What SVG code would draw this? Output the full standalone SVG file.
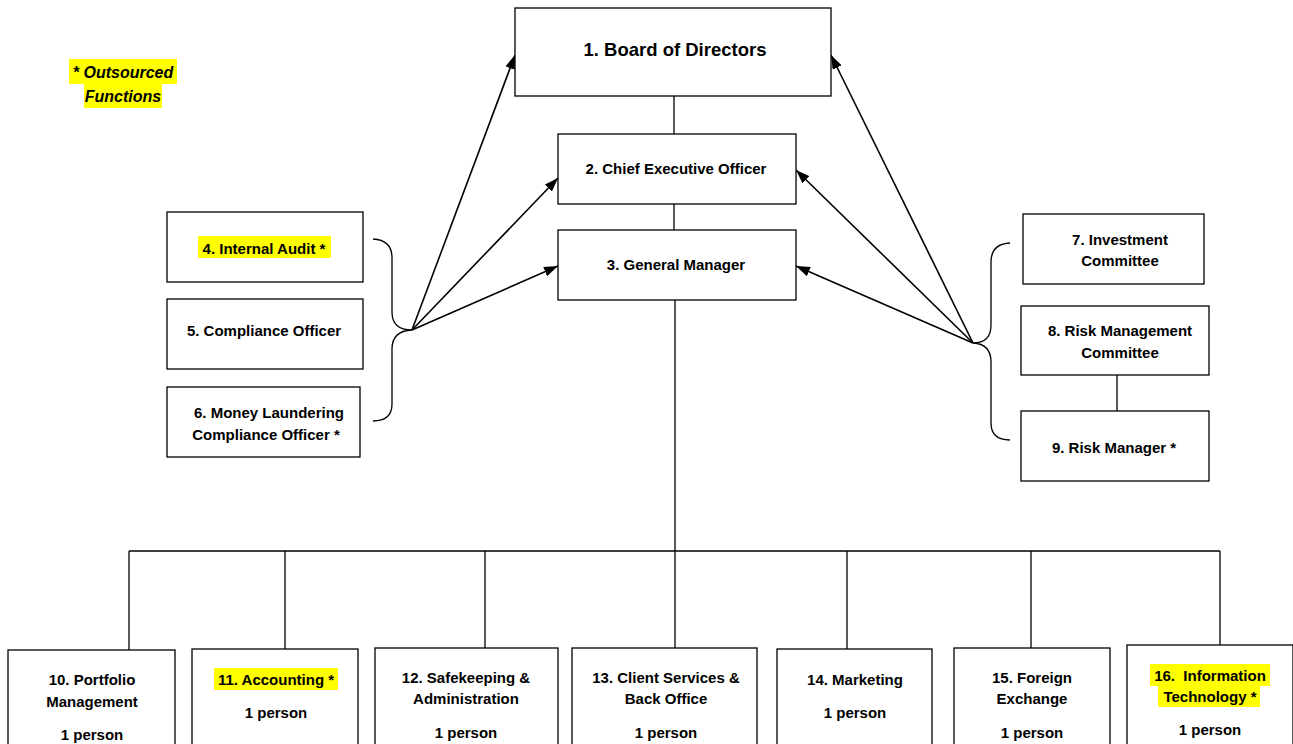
<svg xmlns="http://www.w3.org/2000/svg" width="1293" height="744" viewBox="0 0 1293 744">
<style>
.box{fill:#fff;stroke:#000;stroke-width:1.3}
.t{font-family:"Liberation Sans",Arial,sans-serif;font-weight:bold;font-size:15px;fill:#000;text-anchor:middle}
.hl{fill:#ffff00}
.c{fill:none;stroke:#000;stroke-width:1.3}
.a{fill:none;stroke:#000;stroke-width:1.6;marker-end:url(#ah)}
</style>
<defs>
<marker id="ah" viewBox="0 0 14 10" refX="14" refY="5" markerWidth="14" markerHeight="10" markerUnits="userSpaceOnUse" orient="auto">
<path d="M0,0 L14,5 L0,10 Z" fill="#000"/>
</marker>
</defs>
<rect width="1293" height="744" fill="#fff"/>

<g id="legend">
<rect class="hl" x="69" y="59" width="108" height="25"/>
<rect class="hl" x="84" y="84" width="78" height="24"/>
<text class="t" x="123" y="78" style="font-style:italic;font-size:16px">* Outsourced</text>
<text class="t" x="123" y="102" style="font-style:italic;font-size:16px">Functions</text>
</g>

<g id="connectors">
<line class="c" x1="674" y1="96" x2="674" y2="134"/>
<line class="c" x1="674" y1="204" x2="674" y2="230"/>
<line class="c" x1="675" y1="300" x2="675" y2="551"/>
<line class="c" x1="129" y1="551" x2="1220" y2="551"/>
<line class="c" x1="129" y1="551" x2="129" y2="650"/>
<line class="c" x1="285" y1="551" x2="285" y2="649"/>
<line class="c" x1="485" y1="551" x2="485" y2="648"/>
<line class="c" x1="675" y1="551" x2="675" y2="648"/>
<line class="c" x1="847" y1="551" x2="847" y2="649"/>
<line class="c" x1="1031" y1="551" x2="1031" y2="648"/>
<line class="c" x1="1220" y1="551" x2="1220" y2="645"/>
<line class="c" x1="1117" y1="375" x2="1117" y2="411"/>
<path class="c" d="M373,239 Q392,240 392,258 L392,312 Q392,330 412,330 Q392,331 392,349 L392,404 Q392,421 373,421"/>
<path class="c" d="M1010,243 Q991,244 991,262 L991,325 Q991,343 973,343 Q991,344 991,362 L991,423 Q991,440 1010,440"/>
<line class="a" x1="412" y1="330" x2="515" y2="55"/>
<line class="a" x1="412" y1="330" x2="558" y2="178"/>
<line class="a" x1="412" y1="330" x2="558" y2="266"/>
<line class="a" x1="973" y1="343" x2="831" y2="55"/>
<line class="a" x1="973" y1="343" x2="796" y2="170"/>
<line class="a" x1="973" y1="343" x2="796" y2="266"/>
</g>

<g id="n1"><rect class="box" x="515" y="8" width="316" height="88"/><text class="t" x="675" y="56" style="font-size:18.5px">1. Board of Directors</text></g>
<g id="n2"><rect class="box" x="558" y="134" width="238" height="70"/><text class="t" x="676" y="174">2. Chief Executive Officer</text></g>
<g id="n3"><rect class="box" x="558" y="230" width="238" height="70"/><text class="t" x="676" y="270">3. General Manager</text></g>

<g id="n4"><rect class="box" x="167" y="212" width="196" height="70"/><rect class="hl" x="198" y="236" width="133" height="22"/><text class="t" x="264" y="254">4. Internal Audit *</text></g>
<g id="n5"><rect class="box" x="167" y="299" width="196" height="70"/><text class="t" x="264" y="336">5. Compliance Officer</text></g>
<g id="n6"><rect class="box" x="167" y="387" width="193" height="70"/><text class="t" x="269" y="418">6. Money Laundering</text><text class="t" x="266" y="440">Compliance Officer *</text></g>

<g id="n7"><rect class="box" x="1023" y="214" width="181" height="70"/><text class="t" x="1120" y="245">7. Investment</text><text class="t" x="1120" y="266">Committee</text></g>
<g id="n8"><rect class="box" x="1021" y="306" width="188" height="69"/><text class="t" x="1120" y="336">8. Risk Management</text><text class="t" x="1120" y="358">Committee</text></g>
<g id="n9"><rect class="box" x="1021" y="411" width="188" height="70"/><text class="t" x="1114" y="453">9. Risk Manager *</text></g>

<g id="n10"><rect class="box" x="8" y="650" width="167" height="100"/><text class="t" x="92" y="685">10. Portfolio</text><text class="t" x="92" y="707">Management</text><text class="t" x="92" y="740">1 person</text></g>
<g id="n11"><rect class="box" x="192" y="649" width="166" height="100"/><rect class="hl" x="214" y="668" width="124" height="22"/><text class="t" x="276" y="685">11. Accounting *</text><text class="t" x="276" y="718">1 person</text></g>
<g id="n12"><rect class="box" x="375" y="648" width="183" height="100"/><text class="t" x="466" y="683">12. Safekeeping &amp;</text><text class="t" x="466" y="704">Administration</text><text class="t" x="466" y="738">1 person</text></g>
<g id="n13"><rect class="box" x="572" y="648" width="185" height="100"/><text class="t" x="666" y="683">13. Client Services &amp;</text><text class="t" x="666" y="704">Back Office</text><text class="t" x="666" y="738">1 person</text></g>
<g id="n14"><rect class="box" x="777" y="649" width="155" height="100"/><text class="t" x="855" y="685">14. Marketing</text><text class="t" x="855" y="718">1 person</text></g>
<g id="n15"><rect class="box" x="954" y="648" width="156" height="100"/><text class="t" x="1032" y="683">15. Foreign</text><text class="t" x="1032" y="704">Exchange</text><text class="t" x="1032" y="738">1 person</text></g>
<g id="n16"><rect class="box" x="1127" y="645" width="166" height="105"/><rect class="hl" x="1150" y="664" width="120" height="22"/><rect class="hl" x="1158" y="686" width="102" height="21"/><text class="t" x="1210" y="681" style="white-space:pre">16.  Information</text><text class="t" x="1210" y="702">Technology *</text><text class="t" x="1210" y="735">1 person</text></g>
</svg>
